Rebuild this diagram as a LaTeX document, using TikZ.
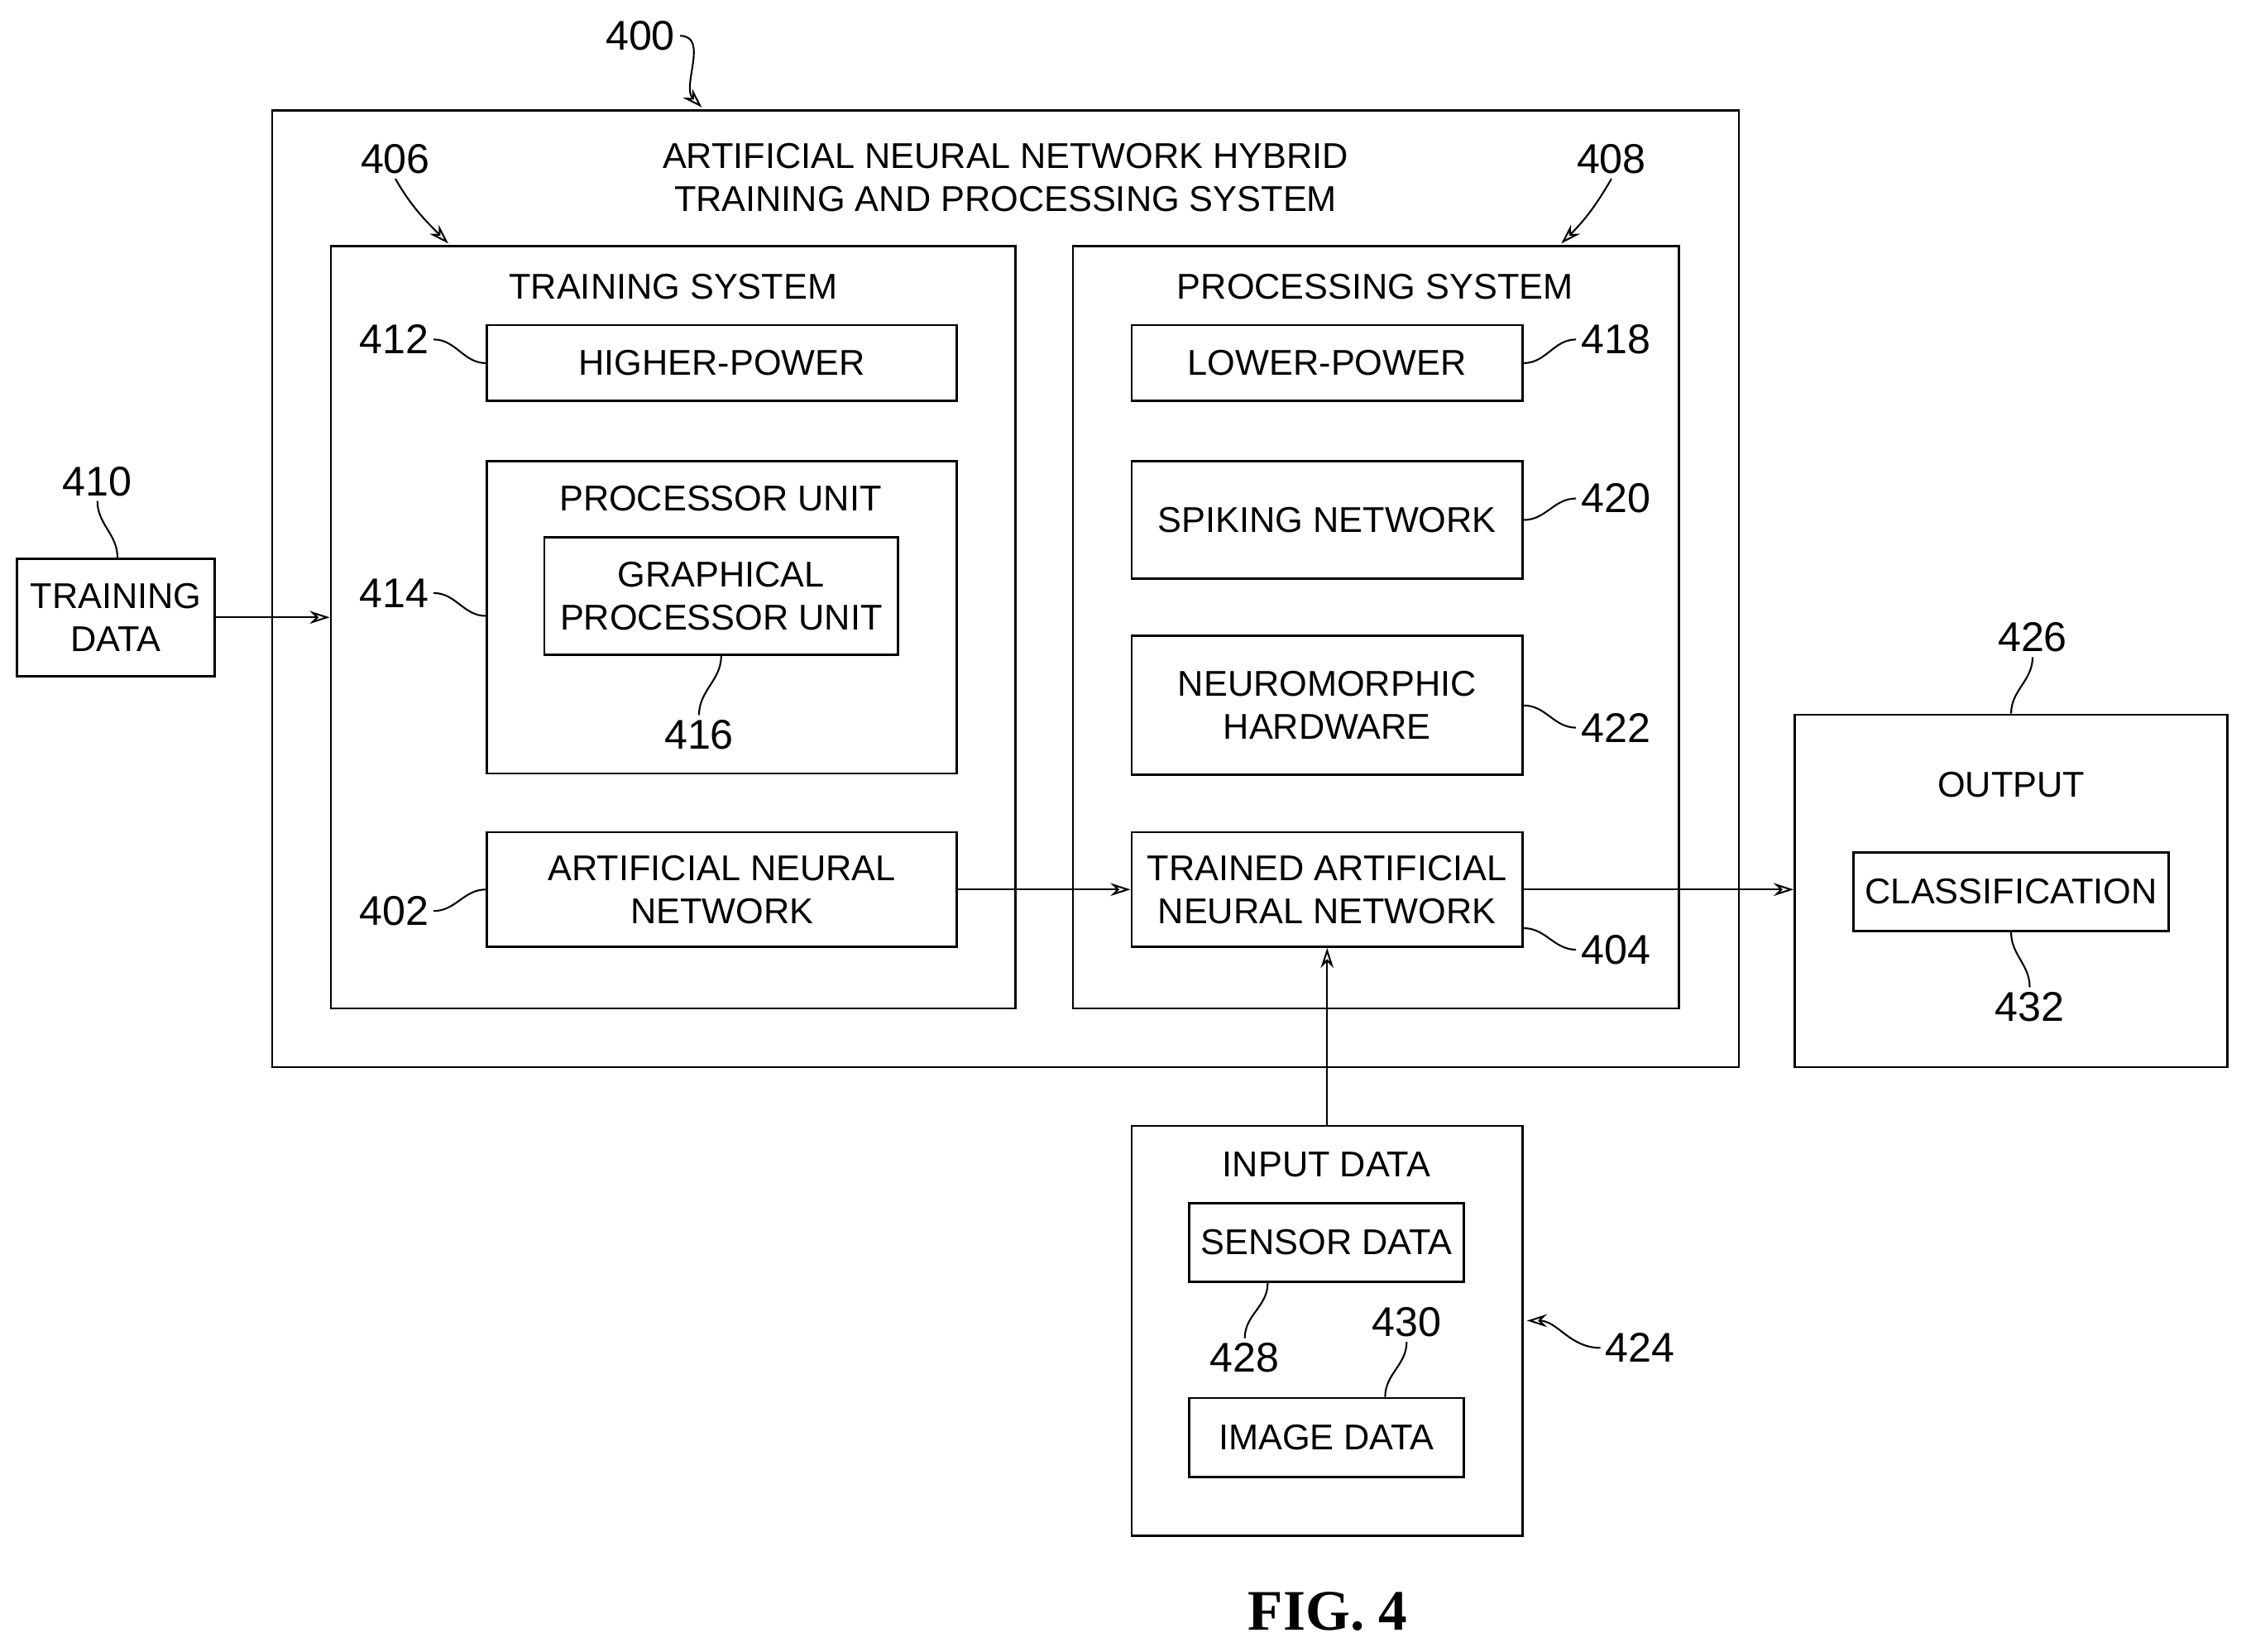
\documentclass[tikz,border=0pt]{standalone}
\usepackage{fontspec}
\setmainfont{Liberation Sans}
\newfontfamily\figfont{Liberation Serif}
\usetikzlibrary{arrows.meta}
\begin{document}
\begin{tikzpicture}[x=1pt,y=-1pt,
  box/.style={draw,line width=1.6pt,inner sep=0pt},
  txt/.style={font=\fontsize{25}{30}\selectfont,align=center},
  num/.style={font=\fontsize{29}{32}\selectfont},
  arr/.style={line width=1.2pt,-{Stealth[length=14pt,width=9pt,open]}},
  lead/.style={line width=1.2pt}]
\useasboundingbox (0,0) rectangle (1568,1153);
\newcommand\bx[5]{\node[box,minimum width=#4-#2,minimum height=#5-#3] (#1) at ({(#2+#4)/2},{(#3+#5)/2}) {};}
\bx{sys}{190}{77}{1214}{745}
\bx{train}{231}{172}{709}{704}
\bx{proc}{749}{172}{1172}{704}
\bx{hp}{340}{227}{668}{280}
\bx{pu}{340}{322}{668}{540}
\bx{gpu}{380}{375}{627}{457}
\bx{ann}{340}{581}{668}{661}
\bx{lp}{790}{227}{1063}{280}
\bx{spk}{790}{322}{1063}{404}
\bx{neu}{790}{444}{1063}{541}
\bx{tann}{790}{581}{1063}{661}
\bx{td}{12}{390}{150}{472}
\bx{out}{1253}{499}{1555}{745}
\bx{cls}{1294}{595}{1514}{650}
\bx{in}{790}{786}{1063}{1072}
\bx{sen}{830}{840}{1022}{895}
\bx{img}{830}{976}{1022}{1031}
\node[txt] (t1) at (702,124) {ARTIFICIAL NEURAL NETWORK HYBRID\\TRAINING AND PROCESSING SYSTEM};
\node[txt] (t2) at (470,200) {TRAINING SYSTEM};
\node[txt] (t3) at (960,200) {PROCESSING SYSTEM};
\node[txt] (t4) at (hp) {HIGHER-POWER};
\node[txt] (t5) at (503,348) {PROCESSOR UNIT};
\node[txt] (t6) at (gpu) {GRAPHICAL\\PROCESSOR UNIT};
\node[txt] (t7) at (ann) {ARTIFICIAL NEURAL\\NETWORK};
\node[txt] (t8) at (lp) {LOWER-POWER};
\node[txt] (t9) at (spk) {SPIKING NETWORK};
\node[txt] (t10) at (neu) {NEUROMORPHIC\\HARDWARE};
\node[txt] (t11) at (tann) {TRAINED ARTIFICIAL\\NEURAL NETWORK};
\node[txt] (t12) at (td) {TRAINING\\DATA};
\node[txt] (t13) at (1404,548) {OUTPUT};
\node[txt] (t14) at (cls) {CLASSIFICATION};
\node[txt] (t15) at (926,813) {INPUT DATA};
\node[txt] (t16) at (sen) {SENSOR DATA};
\node[txt] (t17) at (img) {IMAGE DATA};
\node[font=\figfont\bfseries\fontsize{40}{44}\selectfont] (fig) at (927,1125) {FIG. 4};
\draw[arr] (td.east) -- (train.west|-td.east);
\draw[arr] (ann.east|-tann) -- (tann.west);
\draw[arr] (tann.east) -- (out.west|-tann);
\draw[arr] (in.north-|tann) -- (tann.south);
% numbers
\node[num] (n400) at (447,25) {400};
\node[num] (n406) at (276,111) {406};
\node[num] (n408) at (1125,111) {408};
\node[num] (n412) at (275,237) {412};
\node[num] (n418) at (1128,237) {418};
\node[num] (n414) at (275,414) {414};
\node[num] (n420) at (1128,348) {420};
\node[num] (n422) at (1128,508) {422};
\node[num] (n402) at (275,636) {402};
\node[num] (n404) at (1128,663) {404};
\node[num] (n410) at (68,336) {410};
\node[num] (n416) at (488,513) {416};
\node[num] (n426) at (1419,445) {426};
\node[num] (n432) at (1417,703) {432};
\node[num] (n428) at (869,948) {428};
\node[num] (n430) at (982,923) {430};
\node[num] (n424) at (1145,941) {424};
\coordinate (c400) at (490,75); \coordinate (c406) at (313,170); \coordinate (c408) at (1090,170);
\coordinate (c424) at (1066,922);
\draw[arr] (n400.east) to[out=0,in=135] (c400);
\draw[arr] (n406.south) to[out=-60,in=135] (c406);
\draw[arr] (n408.south) to[out=-120,in=45] (c408);
\draw[arr] (n424.west) to[out=180,in=0] (c424);
\draw[lead] (n412.east) to[out=0,in=180] (hp.west);
\draw[lead] (n414.east) to[out=0,in=180] (pu.west|-0,430);
\draw[lead] (n402.east) to[out=0,in=180] (ann.west);
\draw[lead] (n418.west) to[out=180,in=0] (lp.east);
\draw[lead] (n420.west) to[out=180,in=0] (spk.east);
\draw[lead] (n422.west) to[out=180,in=0] (neu.east);
\draw[lead] (n404.west) to[out=180,in=0] (tann.east|-0,648);
\draw[lead] (n410.south) to[out=-90,in=90] (td.north-|82,0);
\draw[lead] (n416.north) to[out=90,in=-90] (gpu.south);
\draw[lead] (n426.south) to[out=-90,in=90] (out.north);
\draw[lead] (n432.north) to[out=90,in=-90] (cls.south);
\draw[lead] (n428.north) to[out=90,in=-90] (sen.south-|885,0);
\draw[lead] (n430.south) to[out=-90,in=90] (img.north-|967,0);
\end{tikzpicture}
\end{document}
